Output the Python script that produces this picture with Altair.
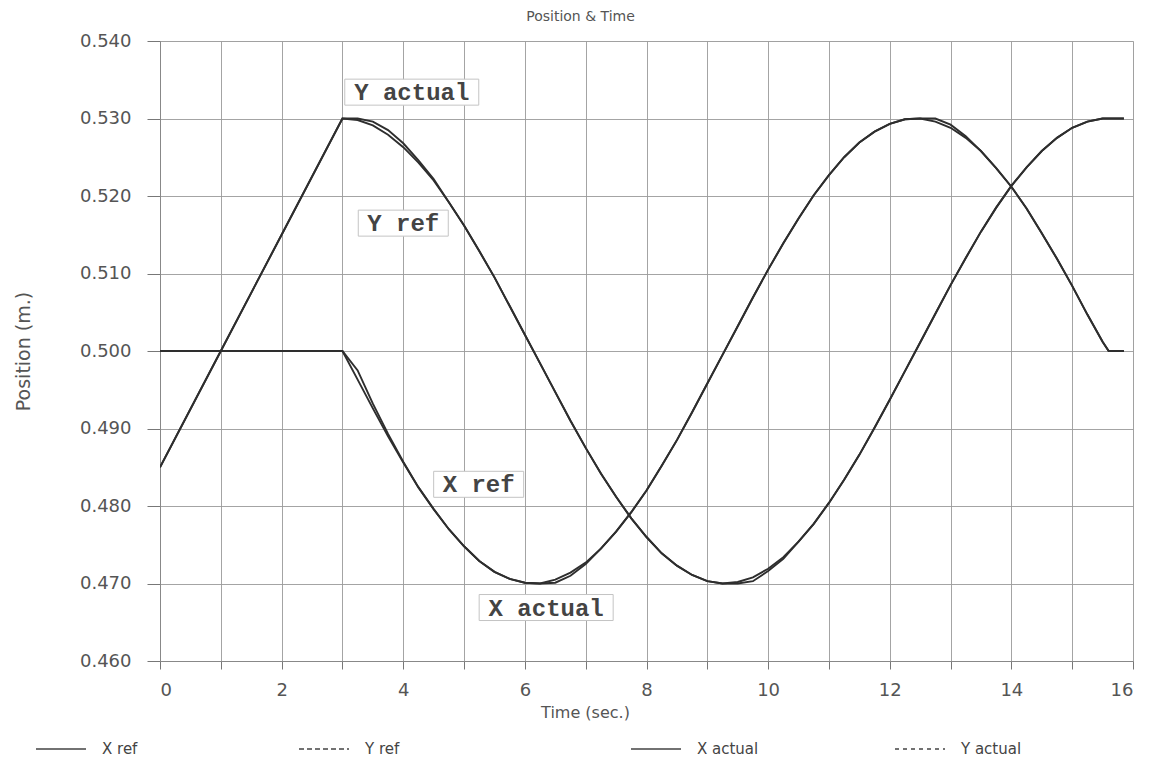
import altair as alt
import pandas as pd

# ---- data ----
time_s = [0, 1, 2, 3, 3.25, 3.5, 3.75, 4, 4.25, 4.5, 4.75, 5, 5.25, 5.5, 5.75, 6,
          6.25, 6.5, 6.75, 7, 7.25, 7.5, 7.75, 8, 8.25, 8.5, 8.75, 9, 9.25, 9.5,
          9.75, 10, 10.25, 10.5, 10.75, 11, 11.25, 11.5, 11.75, 12, 12.25, 12.5,
          12.75, 13, 13.25, 13.5, 13.75, 14, 14.25, 14.5, 14.75, 15, 15.25, 15.5,
          15.6, 15.85]

x_ref = [0.5000, 0.5000, 0.5000,
         0.5000, 0.4963, 0.4926, 0.4890, 0.4856, 0.4824, 0.4796, 0.4770, 0.4748,
         0.4729, 0.4715, 0.4706, 0.4701, 0.4700, 0.4705, 0.4714, 0.4727, 0.4745,
         0.4767, 0.4792, 0.4820, 0.4852, 0.4885, 0.4921, 0.4958, 0.4995, 0.5032,
         0.5069, 0.5105, 0.5139, 0.5171, 0.5201, 0.5227, 0.5250, 0.5269, 0.5283,
         0.5293, 0.5299, 0.5300, 0.5296, 0.5288, 0.5275, 0.5258, 0.5236, 0.5212,
         0.5184, 0.5152, 0.5119, 0.5084, 0.5047, 0.5012,
         0.5000, 0.5000]

y_ref = [0.4850, 0.5000, 0.5150,
         0.5300, 0.5298, 0.5291, 0.5279, 0.5263, 0.5243, 0.5220, 0.5192, 0.5162,
         0.5129, 0.5095, 0.5058, 0.5021, 0.4984, 0.4947, 0.4910, 0.4875, 0.4842,
         0.4812, 0.4784, 0.4760, 0.4739, 0.4723, 0.4711, 0.4703, 0.4700, 0.4702,
         0.4708, 0.4719, 0.4734, 0.4754, 0.4777, 0.4804, 0.4834, 0.4866, 0.4901,
         0.4937, 0.4974, 0.5011, 0.5048, 0.5085, 0.5120, 0.5154, 0.5185, 0.5213,
         0.5237, 0.5258, 0.5275, 0.5288, 0.5296, 0.5300,
         0.5300, 0.5300]

x_actual = [0.5000, 0.5000, 0.5000,
            0.5000, 0.4975, 0.4932, 0.4893, 0.4857, 0.4824, 0.4796, 0.4770, 0.4748,
            0.4729, 0.4715, 0.4706, 0.4701, 0.4700, 0.4701, 0.4710, 0.4725, 0.4745,
            0.4767, 0.4792, 0.4820, 0.4852, 0.4885, 0.4921, 0.4958, 0.4995, 0.5032,
            0.5069, 0.5105, 0.5139, 0.5171, 0.5201, 0.5227, 0.5250, 0.5269, 0.5283,
            0.5293, 0.5299, 0.5300, 0.5300, 0.5292, 0.5277, 0.5258, 0.5236, 0.5212,
            0.5184, 0.5152, 0.5119, 0.5084, 0.5047, 0.5012,
            0.5000, 0.5000]

y_actual = [0.4850, 0.5000, 0.5150,
            0.5300, 0.5300, 0.5296, 0.5285, 0.5268, 0.5246, 0.5222, 0.5192, 0.5162,
            0.5129, 0.5095, 0.5058, 0.5021, 0.4984, 0.4947, 0.4910, 0.4875, 0.4842,
            0.4812, 0.4784, 0.4760, 0.4739, 0.4723, 0.4711, 0.4703, 0.4700, 0.4700,
            0.4703, 0.4716, 0.4732, 0.4754, 0.4777, 0.4804, 0.4834, 0.4866, 0.4901,
            0.4937, 0.4974, 0.5011, 0.5048, 0.5085, 0.5120, 0.5154, 0.5185, 0.5213,
            0.5237, 0.5258, 0.5275, 0.5288, 0.5296, 0.5300,
            0.5300, 0.5300]

ref_names = ["X ref", "Y ref"]
actual_names = ["X actual", "Y actual"]

ann_labels = ["Y actual", "Y ref", "X ref", "X actual"]
ann_time = [4.14, 4.0, 5.24, 6.35]
ann_pos = [0.5334, 0.5165, 0.4828, 0.4669]
ann_wide = [True, False, False, True]

x_ticks = list(range(0, 17))
y_ticks = [0.46, 0.47, 0.48, 0.49, 0.50, 0.51, 0.52, 0.53, 0.54]

# ---- tables ----
rows = []
for name, vals in zip(ref_names + actual_names, [x_ref, y_ref, x_actual, y_actual]):
    for t, v in zip(time_s, vals):
        rows.append({"t": t, "pos": v, "series": name,
                     "kind": "ref" if name in ref_names else "actual"})
df = pd.DataFrame(rows)

ann = pd.DataFrame({"label": ann_labels, "t": ann_time, "pos": ann_pos, "wide": ann_wide})

FONT = "DejaVu Sans"
TXT = "#555555"
GRID = "#9a9a9a"

x_scale = alt.Scale(domain=[0, 16], nice=False, zero=False)
y_scale = alt.Scale(domain=[0.46, 0.54], nice=False, zero=False)

x_axis = alt.Axis(values=x_ticks, format="d",
                  labelExpr="datum.value % 2 == 0 ? datum.label : ''",
                  title="Time (sec.)", grid=True, gridColor=GRID, gridWidth=0.9,
                  tickSize=8, tickColor="#777777", domainColor="#888888",
                  labelFont=FONT, labelFontSize=18, labelColor=TXT, labelPadding=12,
                  titleFont=FONT, titleFontSize=16, titleFontWeight="normal", titleColor=TXT,
                  titleX=425, titleY=51, titleAlign="center", titleBaseline="middle")
y_axis = alt.Axis(values=y_ticks, format=".3f", title="Position (m.)", grid=True,
                  gridColor=GRID, gridWidth=0.9, tickSize=13, tickColor="#777777",
                  domainColor="#888888", labelFont=FONT, labelFontSize=18, labelColor=TXT,
                  labelPadding=16, titleFont=FONT, titleFontSize=19,
                  titleFontWeight="normal", titleColor=TXT, titleAngle=270,
                  titleX=-137, titleY=310, titleAlign="center", titleBaseline="middle")

base = alt.Chart(df)

lines = base.mark_line(strokeWidth=1.9, color="#2e2e2e", clip=True).encode(
    x=alt.X("t:Q", scale=x_scale, axis=x_axis),
    y=alt.Y("pos:Q", scale=y_scale, axis=y_axis),
    detail="series:N",
)


def legend_part(kind, names, dashes, lx, pad):
    return base.transform_filter(f"datum.kind == '{kind}'").mark_line(
        strokeOpacity=0, color="#444444", strokeWidth=1.3).encode(
        x=alt.X("t:Q", scale=x_scale),
        y=alt.Y("pos:Q", scale=y_scale),
        strokeDash=alt.StrokeDash(
            "series:N",
            scale=alt.Scale(domain=names, range=dashes),
            legend=alt.Legend(orient="none", legendX=lx, legendY=700,
                              direction="horizontal", title=None, symbolType="stroke",
                              symbolSize=2500, symbolStrokeWidth=1.3,
                              symbolStrokeColor="#444444", clipHeight=16,
                              labelFont=FONT, labelFontSize=15, labelColor="#444444",
                              labelOffset=15, columnPadding=pad),
        ),
    )


legend_refs = legend_part("ref", ref_names, [[1, 0], [5, 3]], -125, 160)
legend_act = legend_part("actual", actual_names, [[1, 0], [4, 4]], 470, 135)

ann_base = alt.Chart(ann)
box_wide = ann_base.transform_filter("datum.wide").mark_rect(
    width=134, height=26, fill="white", stroke="#c4c4c4", strokeWidth=1).encode(
    x=alt.X("t:Q", scale=x_scale), y=alt.Y("pos:Q", scale=y_scale))
box_narrow = ann_base.transform_filter("!datum.wide").mark_rect(
    width=90, height=26, fill="white", stroke="#c4c4c4", strokeWidth=1).encode(
    x=alt.X("t:Q", scale=x_scale), y=alt.Y("pos:Q", scale=y_scale))
ann_text = ann_base.mark_text(font="Liberation Mono", fontSize=24, fontWeight="bold",
                              color="#444444", align="center", baseline="middle", dy=1).encode(
    x=alt.X("t:Q", scale=x_scale), y=alt.Y("pos:Q", scale=y_scale), text="label:N")

chart = alt.layer(lines, legend_refs, legend_act, box_wide, box_narrow, ann_text).resolve_scale(
    strokeDash="independent").resolve_legend(strokeDash="independent").properties(
    width=973, height=620,
    title=alt.TitleParams("Position & Time", font=FONT, fontSize=14, fontWeight="normal",
                          color=TXT, anchor="middle", dx=-66, offset=8),
    autosize=alt.AutoSizeParams(type="none"),
    padding={"left": 152, "top": 33, "right": 15, "bottom": 97},
).configure_view(stroke="#888888", strokeWidth=1).configure(background="white")

chart.save("out.html", embed_options={"renderer": "svg", "actions": False})
